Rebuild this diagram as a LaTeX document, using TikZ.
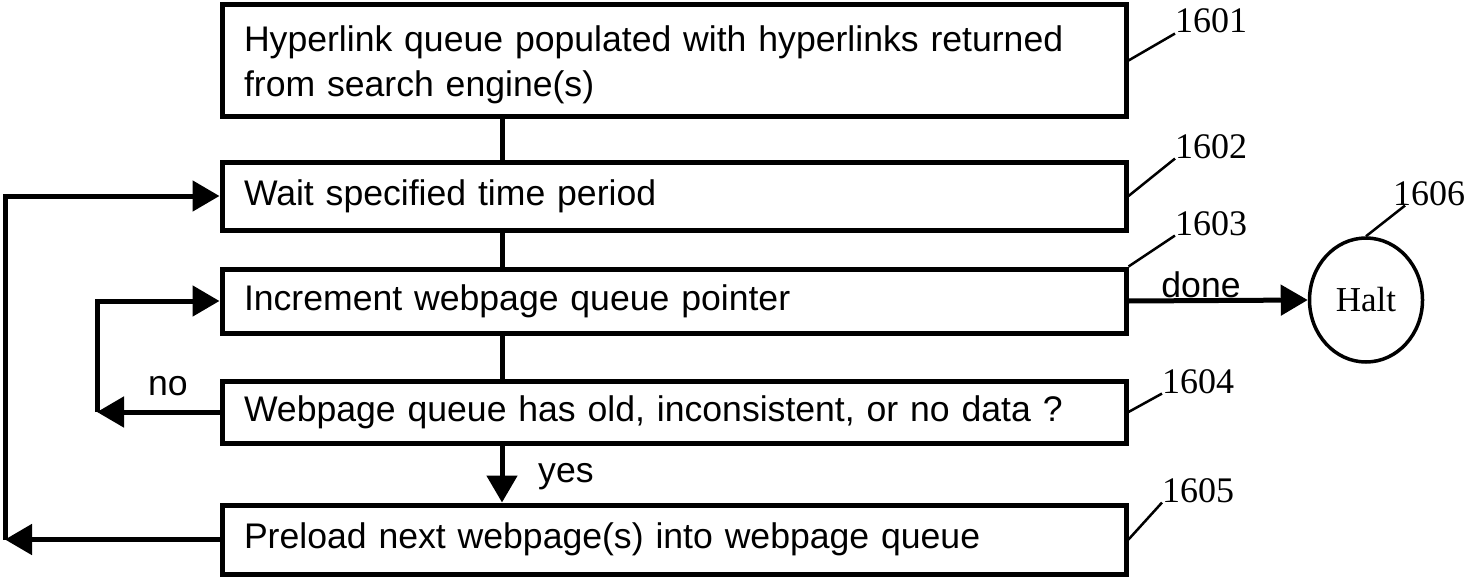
\documentclass[tikz,border=0pt]{standalone}
\usepackage{fontspec}
\setmainfont{Liberation Serif}
\newfontfamily\arialf{Liberation Sans}
\usetikzlibrary{arrows.meta,shapes.geometric}
\begin{document}
\begin{tikzpicture}[x=1pt,y=-1pt,
  box/.style={draw, line width=5pt, minimum width=904pt, text width=860pt, align=left, inner xsep=22pt, inner ysep=0pt, font=\arialf\fontsize{35.6}{45}\selectfont, anchor=center},
  conn/.style={line width=5pt},
  arr/.style={conn, -{Triangle[length=27pt,width=30pt]}},
  lead/.style={line width=2.5pt},
  num/.style={font=\fontsize{36}{40}\selectfont, inner sep=0pt},
  lbl/.style={font=\arialf\fontsize{35.6}{40}\selectfont, inner sep=0pt}]
\useasboundingbox (0,0) rectangle (1464,578);

\node[box, minimum height=111pt] (b1) at (674,60.5) {\rule{0pt}{34pt}Hyperlink queue populated with hyperlinks returned\\from search engine(s)};
\node[box, minimum height=68pt] (b2) at (674,196) {Wait specified time period};
\node[box, minimum height=64pt] (b3) at (674,301) {Increment webpage queue pointer};
\node[box, minimum height=62pt] (b4) at (674,412) {Webpage queue has old, inconsistent, or no data ?};
\node[box, minimum height=69pt] (b5) at (674,539.5) {Preload next webpage(s) into webpage queue};

\node[draw, ellipse, line width=3.5pt, minimum width=113pt, minimum height=124pt, font=\fontsize{35}{40}\selectfont, inner sep=0pt] (halt) at (1366,300) {Halt};

\coordinate (cx) at (502,0);
\coordinate (ol) at (5,539.5);
\coordinate (il) at (97,412);

\draw[conn] (b1.south -| cx) -- (b2.north -| cx);
\draw[conn] (b2.south -| cx) -- (b3.north -| cx);
\draw[conn] (b3.south -| cx) -- (b4.north -| cx);
\draw[arr] (b4.south -| cx) -- (b5.north -| cx);

\draw[arr] (b5.west) -- (ol);
\draw[arr] (ol) |- (b2.west);
\draw[arr] (b4.west) -- (il);
\draw[arr] (il) |- (b3.west);
\draw[arr] (b3.east) -- (halt.west);

\node[lbl, anchor=base] (done) at (1201,297) {done};
\node[lbl, anchor=base] (no) at (168,395) {no};
\node[lbl, anchor=base west] (yes) at (538,482) {yes};

\node[num, anchor=base west] (n1601) at (1175,33) {1601};
\node[num, anchor=base west] (n1602) at (1175,158) {1602};
\node[num, anchor=base west] (n1603) at (1175,235) {1603};
\node[num, anchor=base west] (n1604) at (1162,393) {1604};
\node[num, anchor=base west] (n1605) at (1162,502) {1605};
\node[num, anchor=base west] (n1606) at (1393,205) {1606};

\draw[lead] (b1.east) -- (n1601.south west);
\draw[lead] (b2.east) -- (n1602.south west);
\draw[lead] (b3.north east) -- (n1603.south west);
\draw[lead] (b4.east) -- (n1604.south west);
\draw[lead] (b5.east) -- (n1605.south west);
\draw[lead] (halt.north) -- ([xshift=12pt]n1606.south west);
\end{tikzpicture}
\end{document}
